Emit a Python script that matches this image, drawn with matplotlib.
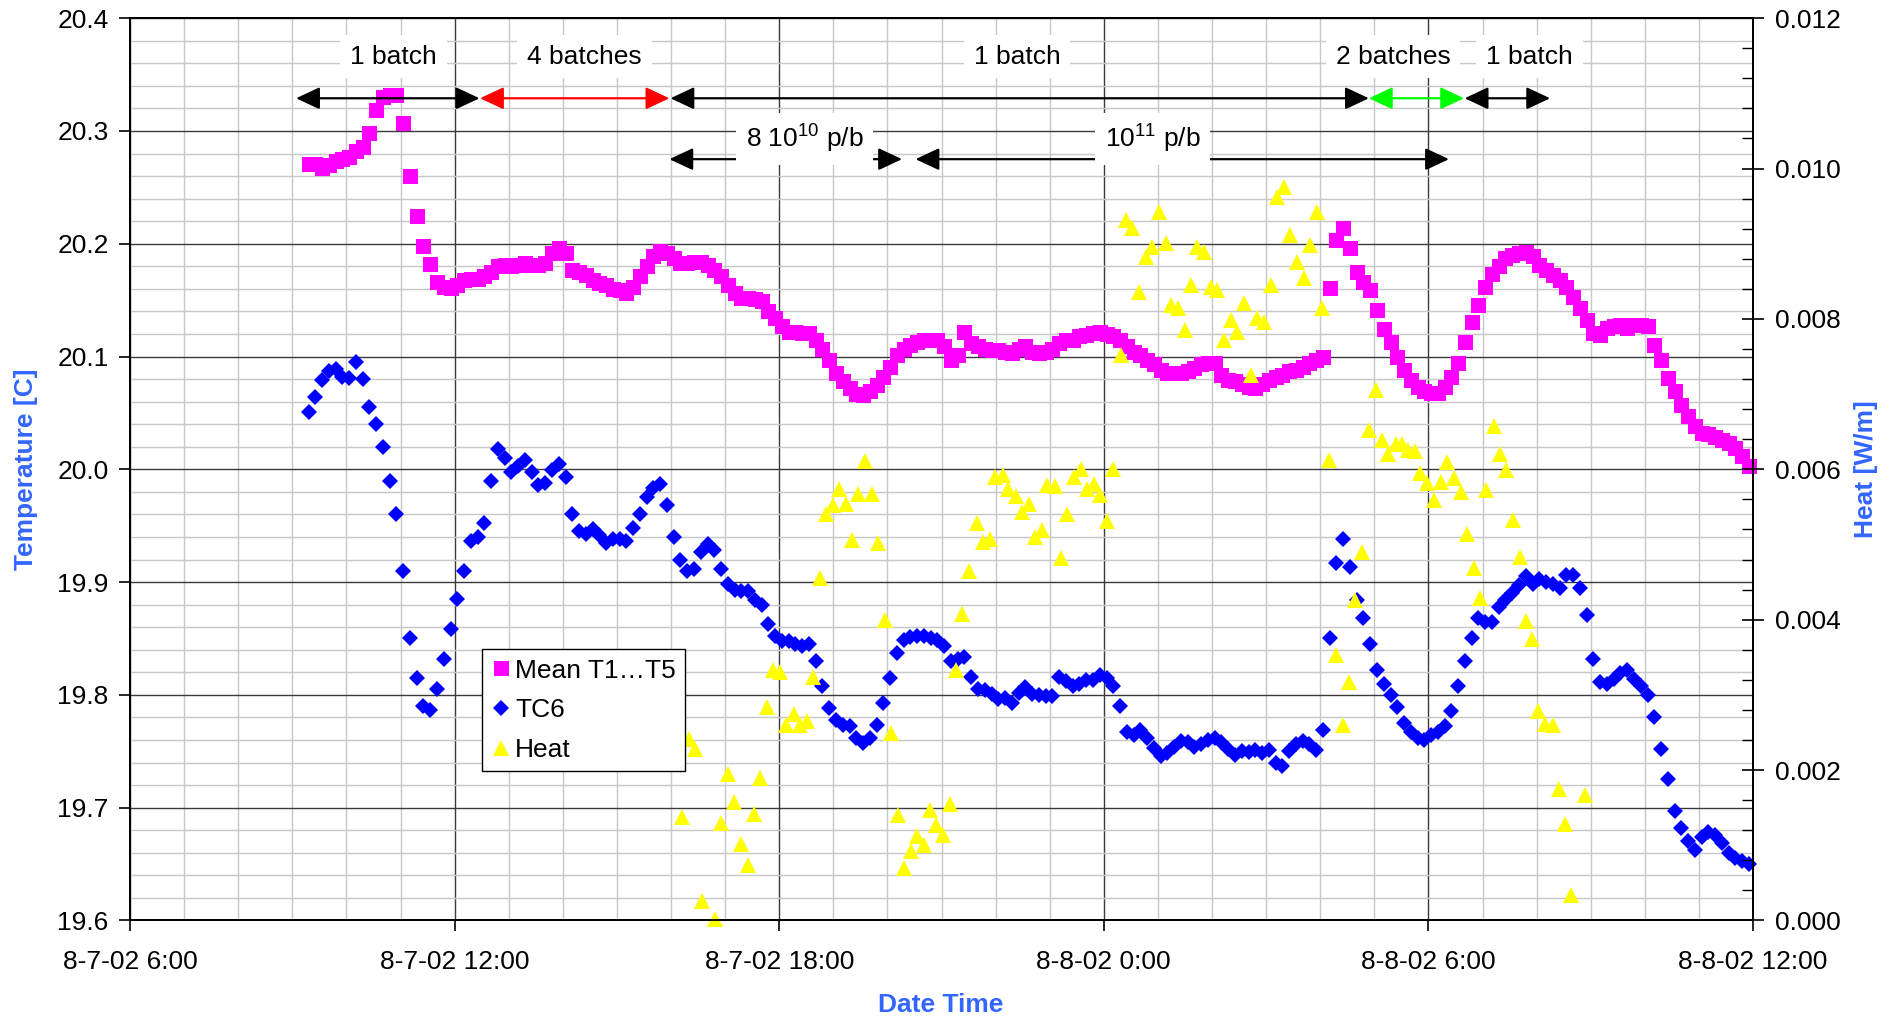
import matplotlib
matplotlib.use("Agg")
import matplotlib.pyplot as plt
from matplotlib.patches import FancyArrowPatch, ArrowStyle
from matplotlib.ticker import MultipleLocator, FixedLocator, FormatStrFormatter

plt.rcParams['font.family'] = ['Liberation Sans', 'DejaVu Sans']
plt.rcParams['mathtext.default'] = 'regular'

# ---------------- data ----------------
# temperature logger: samples every 7.5 min starting 8-7-02 ~9:18 (hours since 8-7-02 0:00)
SAMPLE_START_H = 9.30
SAMPLE_STEP_H = 0.125

mean_t1_t5 = [
    20.271, 20.271, 20.267, 20.270, 20.273, 20.275, 20.277, 20.282, 20.286, 20.298,
    20.319, 20.330, 20.332, 20.332, 20.307, 20.260, 20.225, 20.198, 20.182, 20.166,
    20.162, 20.161, 20.163, 20.168, 20.169, 20.169, 20.171, 20.175, 20.180, 20.181,
    20.180, 20.181, 20.183, 20.181, 20.181, 20.183, 20.192, 20.196, 20.192, 20.177,
    20.175, 20.172, 20.168, 20.165, 20.163, 20.160, 20.159, 20.156, 20.162, 20.171,
    20.180, 20.189, 20.194, 20.192, 20.187, 20.183, 20.183, 20.184, 20.184, 20.181,
    20.177, 20.171, 20.163, 20.156, 20.152, 20.152, 20.151, 20.149, 20.140, 20.134,
    20.127, 20.122, 20.122, 20.121, 20.121, 20.115, 20.107, 20.097, 20.085, 20.078,
    20.072, 20.067, 20.066, 20.069, 20.075, 20.082, 20.091, 20.101, 20.107, 20.110,
    20.113, 20.115, 20.115, 20.115, 20.109, 20.097, 20.101, 20.122, 20.112, 20.109,
    20.107, 20.106, 20.106, 20.104, 20.103, 20.107, 20.109, 20.104, 20.103, 20.104,
    20.107, 20.112, 20.115, 20.115, 20.118, 20.119, 20.121, 20.122, 20.120, 20.118,
    20.115, 20.109, 20.104, 20.101, 20.097, 20.093, 20.088, 20.085, 20.085, 20.085,
    20.087, 20.090, 20.093, 20.094, 20.094, 20.084, 20.079, 20.078, 20.076, 20.073,
    20.072, 20.076, 20.079, 20.082, 20.084, 20.087, 20.088, 20.091, 20.094, 20.097,
    20.100, 20.161, 20.203, 20.214, 20.196, 20.175, 20.166, 20.159, 20.141, 20.124,
    20.113, 20.100, 20.088, 20.079, 20.073, 20.069, 20.068, 20.068, 20.073, 20.082,
    20.094, 20.113, 20.131, 20.146, 20.162, 20.173, 20.180, 20.187, 20.190, 20.192,
    20.193, 20.189, 20.181, 20.177, 20.172, 20.168, 20.162, 20.153, 20.143, 20.132,
    20.121, 20.119, 20.125, 20.127, 20.128, 20.125, 20.128, 20.128, 20.127, 20.110,
    20.097, 20.081, 20.069, 20.057, 20.047, 20.038, 20.032, 20.031, 20.029, 20.026,
    20.023, 20.019, 20.012, 20.003,
]

tc6 = [
    20.051, 20.064, 20.079, 20.087, 20.089, 20.082, 20.081, 20.095, 20.080, 20.055,
    20.040, 20.020, 19.990, 19.960, 19.910, 19.850, 19.815, 19.790, 19.787, 19.805,
    19.832, 19.858, 19.885, 19.910, 19.936, 19.940, 19.952, 19.990, 20.018, 20.010,
    19.998, 20.003, 20.008, 19.998, 19.986, 19.988, 19.999, 20.005, 19.993, 19.960,
    19.945, 19.943, 19.947, 19.942, 19.935, 19.938, 19.938, 19.936, 19.948, 19.960,
    19.975, 19.983, 19.987, 19.968, 19.940, 19.920, 19.910, 19.912, 19.927, 19.934,
    19.928, 19.912, 19.898, 19.893, 19.892, 19.892, 19.884, 19.880, 19.863, 19.852,
    19.848, 19.848, 19.845, 19.843, 19.845, 19.830, 19.808, 19.788, 19.778, 19.773,
    19.772, 19.762, 19.757, 19.762, 19.773, 19.793, 19.815, 19.837, 19.849, 19.851,
    19.852, 19.852, 19.850, 19.849, 19.843, 19.830, 19.832, 19.834, 19.816, 19.805,
    19.804, 19.801, 19.796, 19.797, 19.793, 19.802, 19.807, 19.801, 19.800, 19.799,
    19.799, 19.816, 19.812, 19.808, 19.810, 19.813, 19.813, 19.818, 19.815, 19.808,
    19.790, 19.767, 19.764, 19.769, 19.762, 19.753, 19.746, 19.748, 19.754, 19.759,
    19.758, 19.754, 19.756, 19.760, 19.762, 19.758, 19.752, 19.747, 19.750, 19.749,
    19.751, 19.748, 19.751, 19.740, 19.737, 19.750, 19.756, 19.759, 19.756, 19.751,
    19.769, 19.850, 19.917, 19.938, 19.913, 19.884, 19.868, 19.845, 19.822, 19.810,
    19.800, 19.789, 19.775, 19.767, 19.762, 19.760, 19.764, 19.767, 19.772, 19.786,
    19.808, 19.830, 19.850, 19.868, 19.865, 19.865, 19.878, 19.884, 19.890, 19.897,
    19.905, 19.898, 19.903, 19.900, 19.898, 19.895, 19.906, 19.906, 19.895, 19.871,
    19.832, 19.811, 19.810, 19.814, 19.819, 19.822, 19.814, 19.808, 19.800, 19.780,
    19.752, 19.725, 19.697, 19.682, 19.670, 19.662, 19.674, 19.678, 19.676, 19.669,
    19.660, 19.655, 19.653, 19.650,
]

# heat: time (hours since 8-7-02 0:00) and value in mW/m
heat_time_h = [
    16.203, 16.326, 16.450, 16.573, 16.820, 16.930, 17.054, 17.170, 17.300, 17.417,
    17.528, 17.652, 17.775, 17.886, 18.021, 18.132, 18.268, 18.391, 18.515, 18.626,
    18.748, 18.872, 18.996, 19.100, 19.236, 19.347, 19.458, 19.593, 19.717, 19.828,
    19.950, 20.074, 20.191, 20.302, 20.439, 20.549, 20.672, 20.796, 20.907, 21.031,
    21.165, 21.277, 21.388, 21.511, 21.647, 21.770, 21.893, 21.998, 22.133, 22.226,
    22.368, 22.492, 22.614, 22.725, 22.849, 22.954, 23.089, 23.200, 23.324, 23.446,
    23.570, 23.681, 23.816, 23.927, 24.051, 24.175, 24.310, 24.402, 24.526, 24.648,
    24.772, 24.896, 25.018, 25.142, 25.234, 25.370, 25.499, 25.617, 25.728, 25.850,
    25.974, 26.098, 26.220, 26.344, 26.468, 26.590, 26.714, 26.838, 26.960, 27.084,
    27.208, 27.330, 27.441, 27.578, 27.700, 27.811, 27.935, 28.041, 28.163, 28.299,
    28.418, 28.537, 28.642, 28.781, 28.893, 29.026, 29.144, 29.257, 29.409, 29.521,
    29.620, 29.752, 29.851, 29.983, 30.096, 30.228, 30.347, 30.465, 30.598, 30.710,
    30.842, 30.954, 31.073, 31.205, 31.324, 31.436, 31.555, 31.687, 31.799, 31.918,
    32.031, 32.163, 32.295, 32.414, 32.526, 32.645, 32.889,
]
heat_mw_per_m = [
    1.371, 2.407, 2.278, 0.253, 0.014, 1.302, 1.946, 1.578, 1.012, 0.736,
    1.417, 1.891, 2.844, 3.336, 3.310, 2.599, 2.742, 2.599, 2.646, 3.240,
    4.556, 5.402, 5.521, 5.744, 5.544, 5.060, 5.677, 6.114, 5.677, 5.022,
    4.000, 2.494, 1.402, 0.699, 0.927, 1.117, 1.007, 1.468, 1.269, 1.136,
    1.554, 3.335, 4.081, 4.651, 5.283, 5.031, 5.069, 5.901, 5.924, 5.744,
    5.639, 5.426, 5.535, 5.093, 5.188, 5.791, 5.782, 4.822, 5.402, 5.901,
    6.010, 5.744, 5.806, 5.663, 5.316, 6.010, 7.521, 9.317, 9.206, 8.363,
    8.829, 8.962, 9.427, 9.006, 8.186, 8.142, 7.853, 8.452, 8.962, 8.895,
    8.429, 8.385, 7.720, 7.986, 7.831, 8.208, 7.255, 8.009, 7.964, 8.452,
    9.626, 9.759, 9.117, 8.762, 8.541, 8.984, 9.427, 8.142, 6.124, 3.525,
    2.599, 3.169, 4.262, 4.903, 6.518, 7.055, 6.390, 6.200, 6.342, 6.342,
    6.257, 6.243, 5.948, 5.820, 5.592, 5.829, 6.091, 5.886, 5.696, 5.140,
    4.689, 4.285, 5.725, 6.580, 6.209, 5.996, 5.331, 4.832, 3.986, 3.739,
    2.789, 2.608, 2.599, 1.744, 1.278, 0.342, 1.673,
]

x_tick_hours = [6, 12, 18, 24, 30, 36]
x_tick_labels = ["8-7-02 6:00", "8-7-02 12:00", "8-7-02 18:00",
                 "8-8-02 0:00", "8-8-02 6:00", "8-8-02 12:00"]

# beam-structure annotations (hours since 8-7-02 0:00)
row1_labels = ["1 batch", "4 batches", "1 batch", "2 batches", "1 batch"]
row1_label_x = [10.87, 14.40, 22.40, 29.35, 31.87]
row1_spans = [(9.07, 12.46), (12.47, 15.97), (15.99, 28.90), (28.90, 30.66), (30.67, 32.25)]
row1_colors = ["black", "#FF0000", "black", "#00FF00", "black"]
row2_labels = ["8 10$^{10}$ p/b", "10$^{11}$ p/b"]
row2_label_x = [18.47, 24.90]
row2_spans = [(15.97, 20.27), (20.52, 30.38)]

# ---------------- figure ----------------
W, H = 1904, 1021
fig = plt.figure(figsize=(W / 100, H / 100), dpi=100)
L, R, T, B = 130, 1753, 18.2, 920.4
ax = fig.add_axes([L / W, 1 - B / H, (R - L) / W, (B - T) / H])
ax2 = ax.twinx()

times = [SAMPLE_START_H + SAMPLE_STEP_H * i for i in range(len(mean_t1_t5))]

h1, = ax.plot(times, mean_t1_t5, ls='none', marker='s', ms=10.8, color='#FF00FF',
              mew=0, label='Mean T1\u2026T5', clip_on=False)
h2, = ax.plot(times, tc6, ls='none', marker='D', ms=8.0, color='#0000FF',
              mew=0, label='TC6', clip_on=False)
heat = [v * 1e-3 for v in heat_mw_per_m]
h3, = ax2.plot(heat_time_h, heat, ls='none', marker='^', ms=11.5, color='#FFFF00',
               mew=0, label='Heat', clip_on=False)

FS = 19
ax.set_xlim(6, 36)
ax.set_ylim(19.6, 20.4)
ax2.set_ylim(0, 0.012)

ax.xaxis.set_major_locator(FixedLocator(x_tick_hours))
ax.set_xticklabels(x_tick_labels)
ax.xaxis.set_minor_locator(MultipleLocator(1))
ax.yaxis.set_major_locator(MultipleLocator(0.1))
ax.yaxis.set_minor_locator(MultipleLocator(0.02))
ax.yaxis.set_major_formatter(FormatStrFormatter('%.1f'))
ax2.yaxis.set_major_locator(MultipleLocator(0.002))
ax2.yaxis.set_minor_locator(MultipleLocator(0.0004))
ax2.yaxis.set_major_formatter(FormatStrFormatter('%.3f'))

ax.grid(which='minor', color='#c8c8c8', lw=1.05, zorder=0)
ax.grid(which='major', color='#3a3a3a', lw=1.0, zorder=0)
ax.set_axisbelow(True)

ax.tick_params(axis='x', which='major', direction='out', length=8, width=1.2,
               labelsize=FS, pad=13)
ax.tick_params(axis='x', which='minor', length=0)
ax.tick_params(axis='y', which='major', direction='out', length=8, width=1.2,
               labelsize=FS, pad=7.4)
ax.tick_params(axis='y', which='minor', length=0)
ax2.tick_params(axis='y', which='major', direction='inout', length=16, width=1.2,
                labelsize=FS, pad=7.7)
ax2.tick_params(axis='y', which='minor', direction='in', length=8, width=1.0)

for a in (ax, ax2):
    for s in a.spines.values():
        s.set_linewidth(1.3)
        s.set_color('black')

title_color = '#3366FF'
fig.text(26.5 / W, 1 - 469 / H, 'Temperature [C]', rotation=90, color=title_color,
         fontsize=FS, fontweight='bold', ha='center', va='center')
fig.text(1866 / W, 1 - 469 / H, 'Heat [W/m]', rotation=90, color=title_color,
         fontsize=FS, fontweight='bold', ha='center', va='center')
fig.text(941 / W, 1 - 1005 / H, 'Date Time', color=title_color,
         fontsize=FS, fontweight='bold', ha='center', va='center')

# annotations
Y_ROW1_ARROW, Y_ROW1_TEXT = 20.329, 20.366
Y_ROW2_ARROW, Y_ROW2_TEXT = 20.275, 20.293


def darrow(x0, x1, y, color):
    p = FancyArrowPatch((x0, y), (x1, y), transform=ax.transData,
                        arrowstyle=ArrowStyle('<|-|>', head_length=14.5, head_width=6.8),
                        mutation_scale=1, color=color, lw=1.6,
                        shrinkA=0, shrinkB=0, zorder=5, clip_on=False)
    ax2.add_patch(p)


for (x0, x1), c in zip(row1_spans, row1_colors):
    darrow(x0, x1, Y_ROW1_ARROW, c)
for (x0, x1) in row2_spans:
    darrow(x0, x1, Y_ROW2_ARROW, 'black')

box = dict(facecolor='white', edgecolor='none', pad=7)
for lab, x in zip(row1_labels, row1_label_x):
    ax2.text(x, Y_ROW1_TEXT, lab, transform=ax.transData, ha='center', va='center',
             fontsize=FS, bbox=box, zorder=6)
for lab, x in zip(row2_labels, row2_label_x):
    ax2.text(x, Y_ROW2_TEXT, lab, transform=ax.transData, ha='center', va='center',
             fontsize=FS, bbox=box, zorder=6)

leg = ax2.legend(handles=[h1, h2, h3], loc='upper left',
                 bbox_to_anchor=(0.217, 0.3005), fontsize=FS, frameon=True,
                 fancybox=False, edgecolor='black', framealpha=1,
                 borderpad=0.35, labelspacing=0.6, handlelength=0.7,
                 handletextpad=0.2, borderaxespad=0)
leg.get_frame().set_linewidth(1.0)
leg.set_zorder(10)

fig.savefig('out.png', dpi=100)
